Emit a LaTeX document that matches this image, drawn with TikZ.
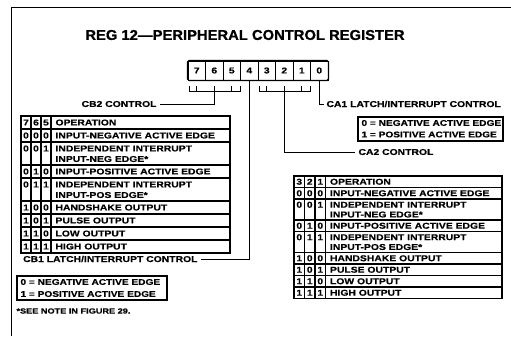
\documentclass[tikz,border=0pt]{standalone}
\usepackage{fontspec}
\setmainfont{Liberation Sans}
\newfontfamily\labfont{Liberation Sans}[FakeStretch=1.22,FakeBold=0.5]
\newfontfamily\ttlfont{Liberation Sans}[FakeStretch=1.04,FakeBold=0.8]
\newcommand{\tx}{21}
\newcommand{\cw}{10}
\newcommand{\oprow}[6]{%
  \node[lbl] (#1-1) at (\tx+0.5*\cw,#2) {#3};
  \node[lbl] (#1-2) at (\tx+1.5*\cw,#2) {#4};
  \node[lbl] (#1-3) at (\tx+2.5*\cw,#2) {#5};
  \node[lbl,anchor=west] (#1-t) at (\tx+3*\cw+4,#2) {#6};}
\newcommand{\opline}[3]{\node[lbl,anchor=west] (#1) at (\tx+3*\cw+4,#2) {#3};}
\begin{document}
\begin{tikzpicture}[x=1bp,y=-1bp,line width=1bp,
  lbl/.style={font=\labfont\bfseries\fontsize{8.5bp}{10bp}\selectfont, inner sep=0pt},
  boxlbl/.style={font=\labfont\bfseries\fontsize{8.3bp}{10bp}\selectfont, inner sep=0pt, anchor=west},
  bitcell/.style={draw, minimum width=17.5bp, minimum height=19bp, inner sep=0pt,
    font=\labfont\bfseries\fontsize{8.5bp}{10bp}\selectfont},
  conn/.style={line width=1bp},
  grid/.style={line width=1.1bp}]
\useasboundingbox (0,0) rectangle (511,336);
% frame
\draw (11,336) -- (11,7) -- (511,7);
% title
\node[font=\ttlfont\bfseries\fontsize{14.2bp}{16bp}\selectfont, inner sep=0pt] (title) at (245,35) {REG 12—PERIPHERAL CONTROL REGISTER};
% register
\foreach \i in {0,...,7} {\node[bitcell] (b\i) at ({188+17.5*(7-\i)+8.75},70.5) {\i};}
\draw[line width=1.2bp, rounded corners=1.5bp] (b7.north west) rectangle (b0.south east);
% brackets
\draw (189,86) -- (189,91) -- (240,91) -- (240,86);
\foreach \x in {196.75,214.25,231.75} \draw (\x,86) -- (\x,91);
\draw (259,86) -- (259,91) -- (310,91) -- (310,86);
\foreach \x in {266.75,284.25,301.75} \draw (\x,86) -- (\x,91);
\coordinate (k765) at (214.25,91);
\coordinate (k321) at (284.25,91);
% labels and connectors
\node[lbl, anchor=east] (cb2) at (157,104) {CB2 CONTROL};
\draw[conn] (k765) |- ([xshift=3bp]cb2.east);
\node[lbl, anchor=west] (ca1) at (326,104) {CA1 LATCH/INTERRUPT CONTROL};
\draw[conn] (b0.south) |- ([xshift=-2bp]ca1.west);
\node[lbl, anchor=west] (ca2) at (358,152) {CA2 CONTROL};
\draw[conn] (k321) |- ([xshift=-3bp]ca2.west);
\node[lbl, anchor=east] (cb1) at (198,259) {CB1 LATCH/INTERRUPT CONTROL};
\draw[conn] (b4.south) |- ([xshift=3bp]cb1.east);
% CA1 box
\draw[grid] (358,117) rectangle (503,141);
\node[boxlbl] (ca1z) at (361,123) {0 = NEGATIVE ACTIVE EDGE};
\node[boxlbl] (ca1o) at (361,134.5) {1 = POSITIVE ACTIVE EDGE};
% CB1 box
\draw[grid] (17,276) rectangle (167,300);
\node[boxlbl] (cb1z) at (20,282) {0 = NEGATIVE ACTIVE EDGE};
\node[boxlbl] (cb1o) at (20,294) {1 = POSITIVE ACTIVE EDGE};
% note
\node[font=\labfont\bfseries\fontsize{7.5bp}{9bp}\selectfont, inner sep=0pt, anchor=west] (note) at (16,311) {*SEE NOTE IN FIGURE 29.};
% left table
\draw[grid] (21,116) rectangle (230,253);
\foreach \y in {129,142,165,178,201,214,227,240} \draw[grid] (21,\y) -- (230,\y);
\foreach \x in {31,41,51} \draw[grid] (\x,116) -- (\x,253);
\renewcommand{\tx}{21}\renewcommand{\cw}{10}
\oprow{La}{122.5}{7}{6}{5}{OPERATION}
\oprow{Lb}{135.5}{0}{0}{0}{INPUT-NEGATIVE ACTIVE EDGE}
\oprow{Lc}{148.5}{0}{0}{1}{INDEPENDENT INTERRUPT}
\opline{Lc2}{159}{INPUT-NEG EDGE*}
\oprow{Ld}{171.5}{0}{1}{0}{INPUT-POSITIVE ACTIVE EDGE}
\oprow{Le}{184.5}{0}{1}{1}{INDEPENDENT INTERRUPT}
\opline{Le2}{195}{INPUT-POS EDGE*}
\oprow{Lf}{207.5}{1}{0}{0}{HANDSHAKE OUTPUT}
\oprow{Lg}{220.5}{1}{0}{1}{PULSE OUTPUT}
\oprow{Lh}{233.5}{1}{1}{0}{LOW OUTPUT}
\oprow{Li}{246.5}{1}{1}{1}{HIGH OUTPUT}
% right table
\draw[grid] (294,176) rectangle (502,298.5);
\foreach \y in {187.5,199,220,231.5,252.5,264,275.5,287} \draw[grid] (294,\y) -- (502,\y);
\foreach \x in {304.5,315,325.5} \draw[grid] (\x,176) -- (\x,298.5);
\renewcommand{\tx}{294}\renewcommand{\cw}{10.5}
\oprow{Ra}{181.75}{3}{2}{1}{OPERATION}
\oprow{Rb}{193.25}{0}{0}{0}{INPUT-NEGATIVE ACTIVE EDGE}
\oprow{Rc}{204.75}{0}{0}{1}{INDEPENDENT INTERRUPT}
\opline{Rc2}{214.5}{INPUT-NEG EDGE*}
\oprow{Rd}{225.75}{0}{1}{0}{INPUT-POSITIVE ACTIVE EDGE}
\oprow{Re}{237.25}{0}{1}{1}{INDEPENDENT INTERRUPT}
\opline{Re2}{247}{INPUT-POS EDGE*}
\oprow{Rf}{258.25}{1}{0}{0}{HANDSHAKE OUTPUT}
\oprow{Rg}{269.75}{1}{0}{1}{PULSE OUTPUT}
\oprow{Rh}{281.25}{1}{1}{0}{LOW OUTPUT}
\oprow{Ri}{292.75}{1}{1}{1}{HIGH OUTPUT}
\end{tikzpicture}
\end{document}
